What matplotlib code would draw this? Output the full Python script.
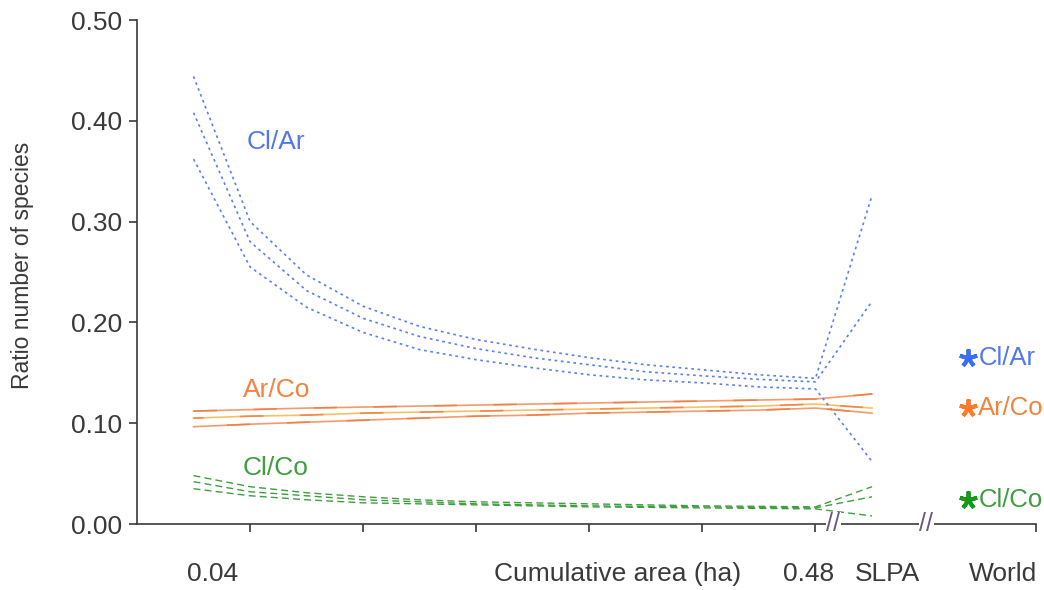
import matplotlib
matplotlib.use('Agg')
import matplotlib.pyplot as plt
import matplotlib.transforms as mtransforms

plt.rcParams['font.family'] = ['Liberation Sans', 'DejaVu Sans']

# Datos: areas acumuladas (ha) y razones por numero de especies
area = [0.04, 0.08, 0.12, 0.16, 0.20, 0.24, 0.28, 0.32, 0.36, 0.40, 0.44, 0.48]

cl_ar = [
    [0.444, 0.300, 0.247, 0.216, 0.196, 0.183, 0.1735, 0.165, 0.158, 0.153, 0.148, 0.1445],
    [0.408, 0.280, 0.2315, 0.204, 0.186, 0.174, 0.165, 0.158, 0.151, 0.147, 0.1435, 0.141],
    [0.362, 0.255, 0.215, 0.190, 0.173, 0.163, 0.155, 0.148, 0.143, 0.140, 0.136, 0.134],
]
cl_ar_slpa = [0.326, 0.221, 0.062]

ar_co = [
    [0.112, 0.1135, 0.115, 0.116, 0.117, 0.118, 0.119, 0.120, 0.121, 0.122, 0.123, 0.124],
    [0.105, 0.107, 0.108, 0.110, 0.111, 0.112, 0.113, 0.114, 0.115, 0.116, 0.117, 0.119],
    [0.0965, 0.099, 0.101, 0.103, 0.105, 0.107, 0.108, 0.110, 0.111, 0.112, 0.113, 0.115],
]
ar_co_slpa = [0.129, 0.115, 0.110]

cl_co = [
    [0.048, 0.037, 0.031, 0.027, 0.024, 0.022, 0.021, 0.020, 0.019, 0.018, 0.0175, 0.017],
    [0.042, 0.032, 0.028, 0.024, 0.022, 0.020, 0.019, 0.018, 0.0175, 0.017, 0.0165, 0.016],
    [0.035, 0.028, 0.024, 0.021, 0.020, 0.019, 0.018, 0.017, 0.0165, 0.016, 0.0155, 0.015],
]
cl_co_slpa = [0.037, 0.027, 0.008]

world = {'Cl/Ar': 0.165, 'Ar/Co': 0.115, 'Cl/Co': 0.024}

# posiciones en el eje x (una unidad por cada 0.04 ha)
pos = [a / 0.04 for a in area]
pos_slpa = 13.0
pos_world = 14.7

azul = '#5a80ee'
naranja = ['#f59a6c', '#f8c066', '#f59a6c']
verde = '#3f9e3f'
gris = '#3a3a3a'

fig = plt.figure(figsize=(10.44, 5.90), dpi=100)
ax = fig.add_axes([137 / 1044, 1 - 524 / 590, (1036 - 137) / 1044, 504 / 590])

for i in range(3):
    ax.plot(pos + [pos_slpa], cl_ar[i] + [cl_ar_slpa[i]], color=azul, lw=1.2,
            linestyle=(0, (1.6, 2.2)))
    ax.plot(pos + [pos_slpa], ar_co[i] + [ar_co_slpa[i]], color=naranja[i], lw=1.2)
    # segmentos mas oscuros sobre las lineas naranjas
    ax.plot(pos + [pos_slpa], ar_co[i] + [ar_co_slpa[i]], color='#f07a3c', lw=1.2,
            linestyle=(8 * i, (14, 22)), alpha=0.8)
    ax.plot(pos + [pos_slpa], cl_co[i] + [cl_co_slpa[i]], color=verde, lw=1.0,
            linestyle=(0, (5, 3)))

colores_estrella = {'Cl/Ar': '#3b6ef5', 'Ar/Co': '#ff7b2a', 'Cl/Co': '#149a14'}
colores_texto = {'Cl/Ar': '#5378ea', 'Ar/Co': '#f5823e', 'Cl/Co': '#3f9e40'}
for k, v in world.items():
    ax.plot([pos_world], [v], marker=(5, 2, 0), markersize=13, mew=2.8,
            color=colores_estrella[k], clip_on=False)
    ax.text(14.88, v, k, color=colores_texto[k], fontsize=18.5, va='center', ha='left')

ax.text(2.45, 0.379, 'Cl/Ar', color=colores_texto['Cl/Ar'], fontsize=19, ha='center', va='center')
ax.text(2.47, 0.133, 'Ar/Co', color=colores_texto['Ar/Co'], fontsize=19, ha='center', va='center')
ax.text(2.45, 0.0556, 'Cl/Co', color=colores_texto['Cl/Co'], fontsize=19, ha='center', va='center')

ax.set_xlim(0, 15.9)
ax.set_ylim(0, 0.5)
ax.set_yticks([0, 0.1, 0.2, 0.3, 0.4, 0.5])
ax.set_yticklabels(['%.2f' % t for t in [0, 0.1, 0.2, 0.3, 0.4, 0.5]])
ax.set_xticks([2, 4, 6, 8, 10, 12, 15.9])
ax.set_xticklabels([])
ax.tick_params(axis='both', direction='out', length=5.5, width=1.2, color=gris,
               labelsize=19, labelcolor='#3a3a3a', pad=5)
for s in ['top', 'right']:
    ax.spines[s].set_visible(False)
for s in ['left', 'bottom']:
    ax.spines[s].set_color(gris)
    ax.spines[s].set_linewidth(1.2)

# cortes del eje x
for xb in [12.31, 13.96]:
    ax.text(xb, 0, '//', fontsize=18, color='#6a5a80', ha='center', va='center',
            bbox=dict(facecolor='white', edgecolor='none', pad=0.3), clip_on=False)

trans = mtransforms.blended_transform_factory(ax.transData, ax.transAxes)
for xt, t in [(1.336, '0.04'), (8.5, 'Cumulative area (ha)'), (11.87, '0.48'),
              (13.27, 'SLPA'), (15.32, 'World')]:
    ax.text(xt, -0.099, t, transform=trans, fontsize=19, color='#3a3a3a',
            ha='center', va='center')

fig.text(23 / 1044, 1 - 265 / 590, 'Ratio number of species', rotation=90,
         fontsize=16.5, color='#3a3a3a', ha='center', va='center')

fig.savefig('out.png', dpi=100)
